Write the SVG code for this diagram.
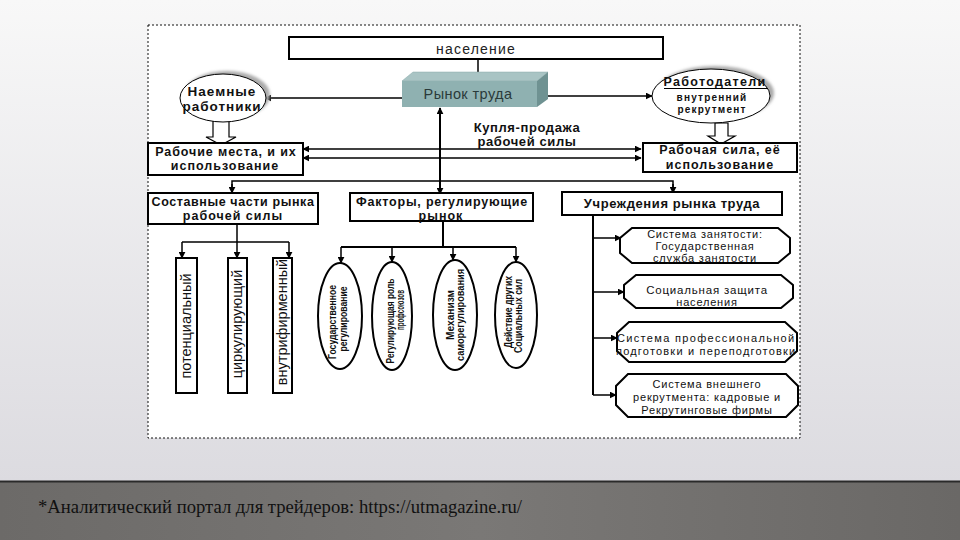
<svg xmlns="http://www.w3.org/2000/svg" width="960" height="540" viewBox="0 0 960 540">
<defs>
<linearGradient id="bg" x1="0" y1="0" x2="0" y2="1">
<stop offset="0" stop-color="#f8f8f8"/>
<stop offset="1" stop-color="#dcdbe0"/>
</linearGradient>
<linearGradient id="band" x1="0" y1="0" x2="1" y2="0">
<stop offset="0" stop-color="#6c6a68"/>
<stop offset="0.5" stop-color="#7a7876"/>
<stop offset="1" stop-color="#6a6866"/>
</linearGradient>
<marker id="ah" viewBox="0 0 10 10" refX="9" refY="5" markerWidth="7" markerHeight="7" orient="auto-start-reverse" markerUnits="userSpaceOnUse">
<path d="M0,0 L10,5 L0,10 z" fill="#000"/>
</marker>
<filter id="sh" x="-20%" y="-20%" width="140%" height="140%">
<feGaussianBlur stdDeviation="1.5"/>
</filter>
</defs>
<style>
.box{fill:#fff;stroke:#000;stroke-width:2}
.ln{fill:none;stroke:#000;stroke-width:2}
.ln1{fill:none;stroke:#000;stroke-width:1.5}
.shd{fill:#aaa;filter:url(#sh)}
.b{font-family:"Liberation Sans",Arial,sans-serif;font-weight:bold;font-size:12.5px;fill:#111;text-anchor:middle;letter-spacing:1px}
.n{font-family:"Liberation Sans",Arial,sans-serif;font-size:11px;fill:#111;text-anchor:middle;letter-spacing:0.8px}
.v{font-family:"Liberation Sans",Arial,sans-serif;font-size:14.5px;fill:#111;text-anchor:middle}
.ve{font-family:"Liberation Sans Narrow","Liberation Sans",Arial,sans-serif;font-weight:bold;font-size:11px;fill:#111;text-anchor:middle}
</style>
<rect x="0" y="0" width="960" height="481" fill="url(#bg)"/>
<rect x="0" y="481" width="960" height="59" fill="url(#band)"/>
<line x1="0" y1="481.5" x2="960" y2="481.5" stroke="#2a2a2a" stroke-width="2"/>
<text x="38" y="513" font-family="'Liberation Serif','Times New Roman',serif" font-size="18" fill="#111" textLength="484" lengthAdjust="spacingAndGlyphs">*Аналитический портал для трейдеров: https://utmagazine.ru/</text>

<rect x="148" y="25" width="652" height="413" fill="#fff" stroke="#111" stroke-width="1" stroke-dasharray="2,2"/>

<g id="connectors">
<line class="ln1" x1="478" y1="59" x2="478" y2="79" marker-end="url(#ah)"/>
<line class="ln1" x1="402" y1="98" x2="265" y2="98" marker-end="url(#ah)"/>
<line class="ln1" x1="547" y1="96" x2="652" y2="96" marker-end="url(#ah)"/>
<line class="ln" x1="440" y1="194" x2="440" y2="108" marker-end="url(#ah)" marker-start="url(#ah)"/>
<line class="ln1" x1="303" y1="149" x2="641" y2="149" marker-end="url(#ah)" marker-start="url(#ah)"/>
<line class="ln1" x1="303" y1="158" x2="641" y2="158" marker-end="url(#ah)" marker-start="url(#ah)"/>
<polyline class="ln1" points="232,193 232,181 673,181 673,193"/>
<line class="ln1" x1="232" y1="184" x2="232" y2="193" marker-end="url(#ah)"/>
<line class="ln1" x1="673" y1="184" x2="673" y2="193" marker-end="url(#ah)"/>
<line class="ln1" x1="237" y1="224" x2="237" y2="242"/>
<line class="ln1" x1="182" y1="242" x2="289" y2="242"/>
<line class="ln1" x1="182" y1="242" x2="182" y2="258" marker-end="url(#ah)"/>
<line class="ln1" x1="237" y1="242" x2="237" y2="258" marker-end="url(#ah)"/>
<line class="ln1" x1="289" y1="242" x2="289" y2="258" marker-end="url(#ah)"/>
<line class="ln" x1="443" y1="221" x2="443" y2="247"/>
<line class="ln" x1="341" y1="247" x2="516" y2="247"/>
<line class="ln1" x1="341" y1="247" x2="341" y2="263" marker-end="url(#ah)"/>
<line class="ln1" x1="392" y1="247" x2="392" y2="262" marker-end="url(#ah)"/>
<line class="ln1" x1="453" y1="247" x2="453" y2="260" marker-end="url(#ah)"/>
<line class="ln1" x1="516" y1="247" x2="516" y2="262" marker-end="url(#ah)"/>
<line class="ln" x1="593" y1="215" x2="593" y2="395"/>
<line class="ln1" x1="593" y1="238" x2="621" y2="238" marker-end="url(#ah)"/>
<line class="ln1" x1="593" y1="292" x2="624" y2="292" marker-end="url(#ah)"/>
<line class="ln1" x1="593" y1="338" x2="617" y2="338" marker-end="url(#ah)"/>
<line class="ln1" x1="593" y1="395" x2="616" y2="395" marker-end="url(#ah)"/>
<path d="M213,121 V137 H206 L221,145 L236,137 H229 V121 Z" fill="#fff" stroke="#000" stroke-width="1.2"/>
<path d="M715,123 V136 H708 L721,144 L735,136 H728 V123 Z" fill="#fff" stroke="#000" stroke-width="1.2"/>
</g>

<g id="naselenie">
<rect x="289" y="37" width="374" height="22" class="box"/>
<text x="476" y="53.5" class="n" style="font-size:14px;letter-spacing:1.2px;fill:#222">население</text>
</g>

<g id="rynok">
<polygon points="402,81 413,72 548,72 537,81" fill="#a9c4c4" stroke="#8aa" stroke-width="0.5"/>
<polygon points="537,81 548,72 548,99 537,107" fill="#6f9292"/>
<rect x="402" y="81" width="135" height="26" fill="#8fb1b1"/>
<text x="468" y="99" class="n" style="font-size:14.5px;fill:#2a3a3a;letter-spacing:0.4px">Рынок труда</text>
</g>

<g id="naemnye">
<ellipse cx="227" cy="95" rx="43" ry="24" class="shd"/>
<ellipse cx="223" cy="98" rx="43" ry="24" fill="#fff" stroke="#000" stroke-width="1"/>
<text x="222" y="96" class="b" style="font-size:13.5px">Наемные</text>
<text x="222" y="111" class="b" style="font-size:13.5px">работники</text>
</g>

<g id="rabotodateli">
<ellipse cx="715" cy="93" rx="59" ry="27" class="shd"/>
<ellipse cx="711" cy="96" rx="59" ry="27" fill="#fff" stroke="#000" stroke-width="1"/>
<text x="715" y="86" class="b" style="letter-spacing:1.3px">Работодатели</text>
<line x1="664" y1="88.5" x2="768" y2="88.5" stroke="#000" stroke-width="1"/>
<text x="712" y="101" class="b" style="font-size:10px;letter-spacing:1.2px">внутренний</text>
<text x="712" y="113" class="b" style="font-size:10px;letter-spacing:1.2px">рекрутмент</text>
</g>

<text x="527" y="132" class="b" style="font-size:13px;letter-spacing:0.6px">Купля-продажа</text>
<text x="527" y="146" class="b" style="font-size:13px;letter-spacing:0.6px">рабочей силы</text>

<g id="rabochie-mesta">
<rect x="148" y="143" width="155" height="32" class="box"/>
<text x="226" y="156" class="b" style="letter-spacing:0.9px">Рабочие места, и их</text>
<text x="225" y="170" class="b">использование</text>
</g>

<g id="rabochaya-sila">
<rect x="643" y="143" width="154" height="29" class="box"/>
<text x="720" y="154" class="b">Рабочая сила, её</text>
<text x="720" y="168.5" class="b">использование</text>
</g>

<g id="sostavnye">
<rect x="148" y="193" width="170" height="31" class="box"/>
<text x="233" y="206" class="b" style="letter-spacing:0.6px">Составные части рынка</text>
<text x="233" y="220" class="b">рабочей силы</text>
</g>

<g id="faktory">
<rect x="350" y="193" width="183" height="28" class="box"/>
<text x="442" y="206" class="b" style="letter-spacing:0.8px">Факторы, регулирующие</text>
<text x="441" y="220" class="b">рынок</text>
</g>

<g id="uchrezhdeniya">
<rect x="562" y="192" width="220" height="23" class="box"/>
<text x="672" y="208" class="b" style="font-size:13px;letter-spacing:0.6px">Учреждения рынка труда</text>
</g>

<g id="potencialny">
<rect x="176" y="258" width="21" height="135" class="box"/>
<text transform="translate(191,326) rotate(-90)" class="v">потенциальный</text>
</g>
<g id="cirkuliruyushchiy">
<rect x="228" y="258" width="19" height="135" class="box"/>
<text transform="translate(242,324) rotate(-90)" class="v">циркулирующий</text>
</g>
<g id="vnutrifirmenny">
<rect x="273" y="258" width="19" height="135" class="box"/>
<text transform="translate(287,322) rotate(-90)" class="v">внутрифирменный</text>
</g>

<g id="gos-reg">
<ellipse cx="340" cy="316" rx="22" ry="53" fill="#fff" stroke="#000" stroke-width="2"/>
<text transform="translate(336,322) rotate(-90)" class="ve" textLength="74" lengthAdjust="spacingAndGlyphs">Государственное</text>
<text transform="translate(347,319) rotate(-90)" class="ve" textLength="65" lengthAdjust="spacingAndGlyphs">регулирование</text>
</g>
<g id="profsoyuzy">
<ellipse cx="392" cy="316" rx="20" ry="54" fill="#fff" stroke="#000" stroke-width="2"/>
<text transform="translate(394,321) rotate(-90)" class="ve" textLength="85" lengthAdjust="spacingAndGlyphs">Регулирующая роль</text>
<text transform="translate(404,310) rotate(-90)" class="ve" textLength="40" lengthAdjust="spacingAndGlyphs">профсоюзов</text>
</g>
<g id="samoreg">
<ellipse cx="455" cy="315" rx="22" ry="55" fill="#fff" stroke="#000" stroke-width="2"/>
<text transform="translate(454,315) rotate(-90)" class="ve" textLength="50" lengthAdjust="spacingAndGlyphs">Механизм</text>
<text transform="translate(464,315) rotate(-90)" class="ve" textLength="92" lengthAdjust="spacingAndGlyphs">саморегулирования</text>
</g>
<g id="drugie">
<ellipse cx="516" cy="315" rx="21" ry="53" fill="#fff" stroke="#000" stroke-width="2"/>
<text transform="translate(512,312) rotate(-90)" class="ve" textLength="72" lengthAdjust="spacingAndGlyphs">Действие других</text>
<text transform="translate(522,316) rotate(-90)" class="ve" textLength="74" lengthAdjust="spacingAndGlyphs">Социальных сил</text>
</g>

<g id="zanyatost">
<polygon points="632,228 778,228 790,238 790,253 778,263 632,263 620,253 620,238" fill="#fff" stroke="#000" stroke-width="2"/>
<text x="705" y="238" class="n">Система занятости:</text>
<text x="705" y="250" class="n">Государственная</text>
<text x="705" y="262" class="n">служба занятости</text>
</g>
<g id="soc-zashchita">
<polygon points="636,275 781,275 793,285 793,298 781,308 636,308 624,298 624,285" fill="#fff" stroke="#000" stroke-width="2"/>
<text x="707" y="294" class="n" style="font-size:11.5px">Социальная защита</text>
<text x="707" y="306" class="n">населения</text>
</g>
<g id="prof-podgotovka">
<polygon points="629,322 785,322 797,333 797,351 785,362 629,362 617,351 617,333" fill="#fff" stroke="#000" stroke-width="2"/>
<text x="706" y="342" class="n" textLength="178">Система профессиональной</text>
<text x="706" y="355" class="n" textLength="180">подготовки и переподготовки</text>
</g>
<g id="vneshniy-rekrutment">
<polygon points="628,374 786,374 798,386 798,405 786,417 628,417 616,405 616,386" fill="#fff" stroke="#000" stroke-width="2"/>
<text x="707" y="388" class="n">Система внешнего</text>
<text x="707" y="401" class="n">рекрутмента: кадровые и</text>
<text x="707" y="414" class="n">Рекрутинговые фирмы</text>
</g>
</svg>
